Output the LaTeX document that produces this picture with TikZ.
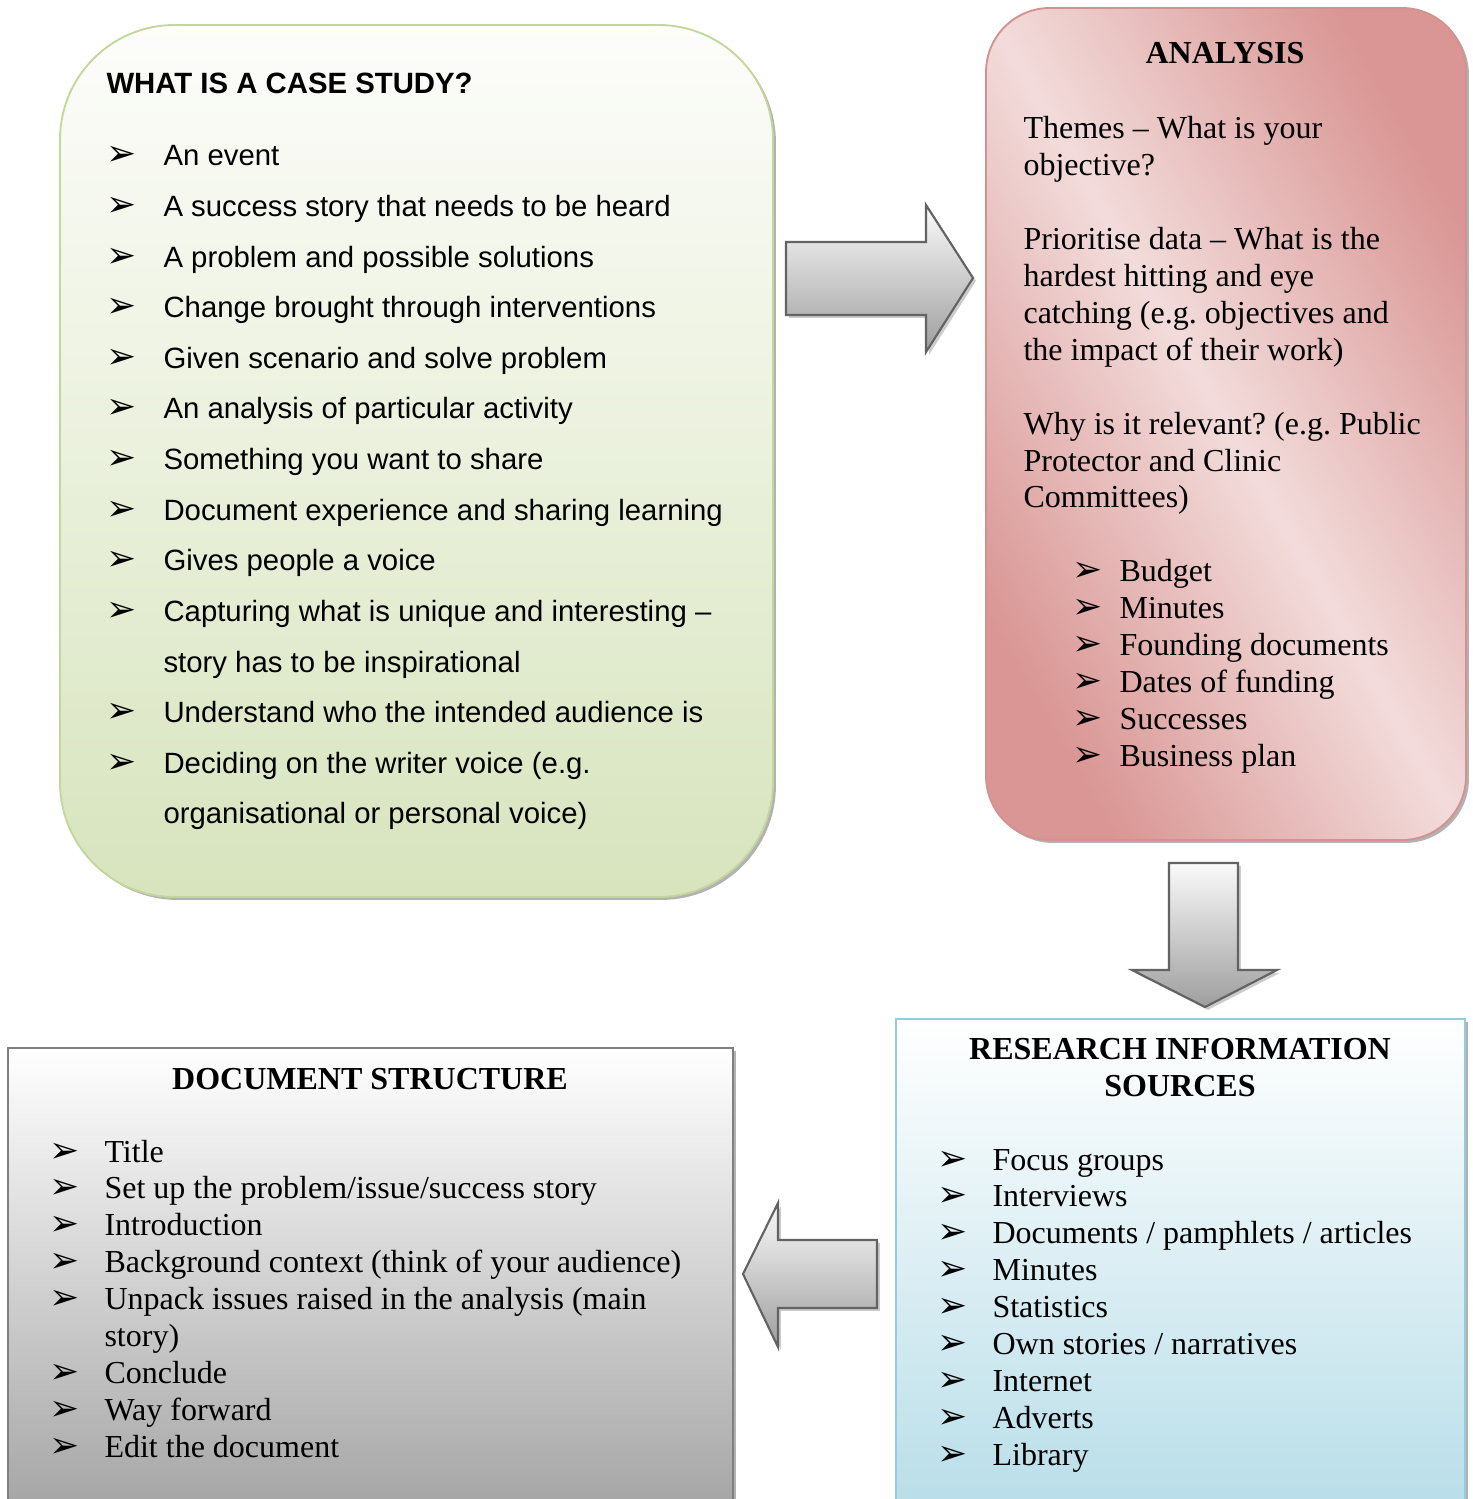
\documentclass[tikz,border=0pt]{standalone}
\usepackage{fontspec}
\setmainfont{Liberation Serif}
\newfontfamily\arialfont{Liberation Sans}
\newfontfamily\dingfont{DejaVu Sans}
\usetikzlibrary{shadows}
\frenchspacing

\definecolor{greenedge}{HTML}{C3D69B}
\definecolor{greenlow}{HTML}{D7E4BD}
\definecolor{greentop}{HTML}{FDFDFB}
\definecolor{rededge}{HTML}{D39290}
\definecolor{reddark}{HTML}{D99694}
\definecolor{redlight}{HTML}{F2DCDB}
\definecolor{blueedge}{HTML}{93CDDD}
\definecolor{bluelow}{HTML}{B7DDE8}
\definecolor{grayedge}{HTML}{7F7F7F}
\definecolor{graylow}{HTML}{A3A3A3}
\definecolor{arrowedge}{HTML}{636363}
\definecolor{arrowtop}{HTML}{FAFAFA}
\definecolor{arrowlow}{HTML}{9E9E9E}

\newcommand{\itemarrow}{{\dingfont\symbol{"27A2}}}

\tikzset{
  panel/.style={line width=0.7pt,
    drop shadow={shadow xshift=1.1pt, shadow yshift=-1.1pt, fill=black!30, opacity=1}},
  blockarrow/.style={draw=arrowedge, line width=0.8pt, top color=arrowtop, bottom color=arrowlow,
    drop shadow={shadow xshift=1.1pt, shadow yshift=-1.1pt, fill=black!20, opacity=1}},
  arialtext/.style={anchor=base west, inner sep=0pt, font=\arialfont\fontsize{11}{13}\selectfont},
  romantext/.style={anchor=base west, inner sep=0pt, font=\fontsize{12}{13.9}\selectfont},
  boxtitle/.style={anchor=base, inner sep=0pt, font=\bfseries\fontsize{12}{13.9}\selectfont},
  bulletmark/.style={anchor=base west, inner sep=0pt, font=\fontsize{13.5}{14}\selectfont}
}

\begin{document}
\begin{tikzpicture}[x=0.375pt, y=-0.375pt]

    \clip (0,0) rectangle (1472,1499);

    % caixas
    \path[panel, draw=greenedge, top color=greentop, bottom color=greenlow, rounded corners=43pt]
        (60,25) rectangle (773,897);
    \path[panel, draw=rededge, top color=reddark, bottom color=reddark, middle color=redlight,
        shading angle=-60, rounded corners=24pt]
        (986,8) rectangle (1466,840);
    \path[panel, draw=grayedge, top color=white, bottom color=graylow]
        (8,1048) rectangle (733,1520);
    \path[panel, draw=blueedge, top color=white, bottom color=bluelow]
        (896,1019) rectangle (1465,1520);

    % setas
    \path[blockarrow] (786,242) -- (926,242) -- (926,205) -- (973,278) -- (926,352)
        -- (926,315) -- (786,315) -- cycle;
    \path[blockarrow] (1169,863) -- (1238,863) -- (1238,970) -- (1277,970) -- (1205,1007)
        -- (1132,970) -- (1169,970) -- cycle;
    \path[blockarrow] (877,1240) -- (778,1240) -- (778,1203) -- (743,1274) -- (778,1347)
        -- (778,1308) -- (877,1308) -- cycle;

    % o que e um estudo de caso
    \node[anchor=base west, inner sep=0pt, font=\arialfont\bfseries\fontsize{11}{13}\selectfont]
        (casetitle) at (106,94) {WHAT IS A CASE STUDY?};
    \foreach \y/\txt in {0/An event, 1/A success story that needs to be heard,
        2/A problem and possible solutions, 3/Change brought through interventions,
        4/Given scenario and solve problem, 5/An analysis of particular activity,
        6/Something you want to share, 7/Document experience and sharing learning,
        8/Gives people a voice, 9/Capturing what is unique and interesting –,
        11/Understand who the intended audience is, 12/Deciding on the writer voice (e.g.}
    {
        \node[bulletmark] (cb\y) at (106,166+50.6*\y) {\itemarrow};
        \node[arialtext] (ct\y) at (163,166+50.6*\y) {\txt};
    }
    \node[arialtext] (ct10) at (163,166+50.6*10) {story has to be inspirational};
    \node[arialtext] (ct13) at (163,166+50.6*13) {organisational or personal voice)};

    % analise
    \node[boxtitle] (antitle) at (1225,64) {ANALYSIS};
    \foreach \y/\txt in {0/Themes – What is your, 1/objective?,
        3/Prioritise data – What is the, 4/hardest hitting and eye,
        5/catching (e.g. objectives and, 6/the impact of their work),
        8/Why is it relevant? (e.g. Public, 9/Protector and Clinic, 10/Committees)}
    {
        \node[romantext] (at\y) at (1023,139+36.9*\y) {\txt};
    }
    \foreach \y/\txt in {0/Budget, 1/Minutes, 2/Founding documents, 3/Dates of funding,
        4/Successes, 5/Business plan}
    {
        \node[bulletmark] (ab\y) at (1072,582+36.9*\y) {\itemarrow};
        \node[romantext] (ai\y) at (1119,582+36.9*\y) {\txt};
    }

    % estrutura do documento
    \node[boxtitle] (doctitle) at (370,1089) {DOCUMENT STRUCTURE};
    \foreach \y/\txt in {0/Title, 1/Set up the problem{/}issue{/}success story, 2/Introduction,
        3/Background context (think of your audience),
        4/Unpack issues raised in the analysis (main, 6/Conclude, 7/Way forward,
        8/Edit the document}
    {
        \node[bulletmark] (db\y) at (49,1162+36.9*\y) {\itemarrow};
        \node[romantext] (dt\y) at (104,1162+36.9*\y) {\txt};
    }
    \node[romantext] (dt5) at (104,1162+36.9*5) {story)};

    % fontes de informacao
    \node[boxtitle] (restitle) at (1180,1059) {RESEARCH INFORMATION};
    \node[boxtitle] (restitleb) at (1180,1096) {SOURCES};
    \foreach \y/\txt in {0/Focus groups, 1/Interviews, 2/Documents {/} pamphlets {/} articles,
        3/Minutes, 4/Statistics, 5/Own stories {/} narratives, 6/Internet, 7/Adverts, 8/Library}
    {
        \node[bulletmark] (rb\y) at (937,1170+36.9*\y) {\itemarrow};
        \node[romantext] (rt\y) at (992,1170+36.9*\y) {\txt};
    }

\end{tikzpicture}
\end{document}
